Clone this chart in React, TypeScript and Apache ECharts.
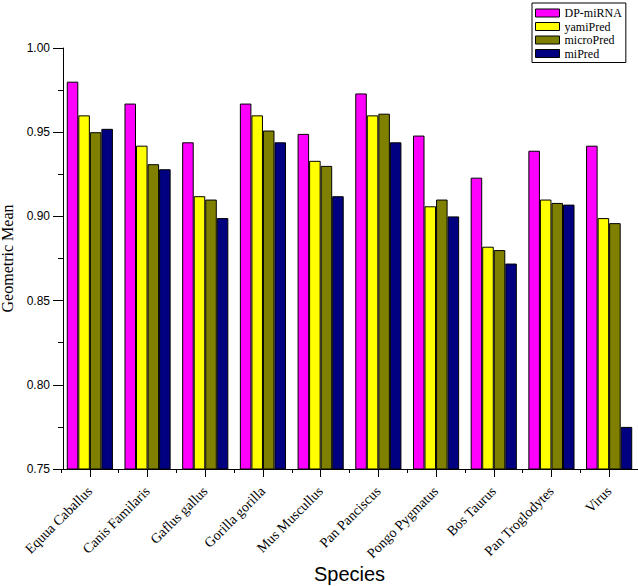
import React, { useEffect, useRef } from "react";
import * as echarts from "echarts";

const categories = [
  "Equua Caballus",
  "Canis Familaris",
  "Gaflus gallus",
  "Gorilla gorilla",
  "Mus Muscullus",
  "Pan Panciscus",
  "Pongo Pygmatus",
  "Bos Taurus",
  "Pan Troglodytes",
  "Virus",
];
const seriesNames = ["DP-miRNA", "yamiPred", "microPred", "miPred"];
const dpMiRNA = [0.98, 0.967, 0.944, 0.967, 0.949, 0.973, 0.948, 0.923, 0.939, 0.942];
const yamiPred = [0.96, 0.942, 0.912, 0.96, 0.933, 0.96, 0.906, 0.882, 0.91, 0.899];
const microPred = [0.95, 0.931, 0.91, 0.951, 0.93, 0.961, 0.91, 0.88, 0.908, 0.896];
const miPred = [0.952, 0.928, 0.899, 0.944, 0.912, 0.944, 0.9, 0.872, 0.907, 0.775];
const seriesColors = ["#FF00FF", "#FFFF00", "#808000", "#000080"];
const yMin = 0.75;
const yMax = 1.0;
const yInterval = 0.05;

const SERIF = "'Liberation Serif', 'Times New Roman', serif";
const SANS = "'Liberation Sans', Arial, sans-serif";

export default function App() {
  const ref = useRef<HTMLDivElement>(null);
  useEffect(() => {
    if (!ref.current) return;
    const chart = echarts.init(ref.current, undefined, { renderer: "svg" });
    const values = [dpMiRNA, yamiPred, microPred, miPred];
    chart.setOption({
      animation: false,
      backgroundColor: "#fff",
      grid: {
        left: 61,
        right: 0,
        top: 48,
        bottom: 117,
        containLabel: false,
        outerBoundsMode: "none",
      },
      legend: {
        orient: "vertical",
        left: 532,
        top: 3,
        align: "left",
        icon: "rect",
        itemWidth: 24,
        itemHeight: 8,
        itemGap: 1.5,
        padding: [4, 4, 3, 3],
        borderColor: "#000",
        borderWidth: 1,
        textStyle: { fontFamily: SERIF, fontSize: 12, color: "#000" },
        itemStyle: { borderColor: "#000", borderWidth: 1 },
        data: seriesNames,
      },
      xAxis: [
        {
          type: "category",
          data: categories,
          position: "bottom",
          name: "Species",
          nameLocation: "middle",
          nameGap: 95,
          nameMoveOverlap: false,
          nameTextStyle: { fontFamily: SANS, fontSize: 20, color: "#000" },
          axisLine: { show: true, lineStyle: { color: "#000", width: 1 } },
          axisTick: { show: true, alignWithLabel: true, length: 8, lineStyle: { color: "#000" } },
          axisLabel: {
            rotate: 45,
            interval: 0,
            margin: 20,
            fontFamily: SERIF,
            fontSize: 14,
            color: "#000",
          },
          splitLine: { show: false },
        },
        {
          type: "category",
          data: categories,
          position: "bottom",
          axisLine: { show: false },
          axisTick: { show: true, alignWithLabel: false, length: 4, interval: 0, lineStyle: { color: "#000" } },
          axisLabel: { show: false },
          splitLine: { show: false },
        },
      ],
      yAxis: {
        type: "value",
        min: yMin,
        max: yMax,
        interval: yInterval,
        offset: -2,
        name: "Geometric Mean",
        nameLocation: "middle",
        nameGap: 39,
        nameTextStyle: { fontFamily: SERIF, fontSize: 16, color: "#000" },
        axisLine: { show: true, lineStyle: { color: "#000", width: 1 } },
        axisTick: { show: true, length: 10, lineStyle: { color: "#000" } },
        minorTick: { show: true, splitNumber: 2, length: 5, lineStyle: { color: "#000" } },
        axisLabel: {
          margin: 13,
          fontFamily: SANS,
          fontSize: 12,
          color: "#000",
          formatter: (v: number) => v.toFixed(2),
        },
        splitLine: { show: false },
      },
      series: seriesNames.map((name, i) => ({
        name,
        type: "bar",
        xAxisIndex: 0,
        data: values[i],
        barGap: "0%",
        barCategoryGap: "20%",
        itemStyle: { color: seriesColors[i], borderColor: "#000", borderWidth: 1 },
      })),
    });
    return () => chart.dispose();
  }, []);
  return (
    <div
      ref={ref}
      style={{ position: "fixed", left: 0, top: 0, width: 638, height: 586 }}
    />
  );
}
